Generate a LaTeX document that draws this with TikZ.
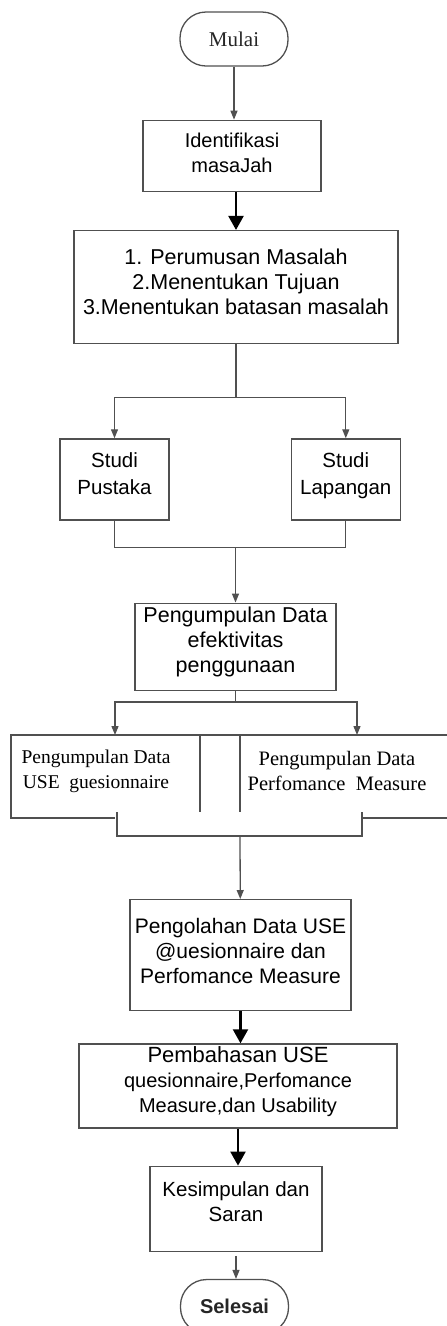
\documentclass[tikz,border=0pt]{standalone}
\usepackage{fontspec}
\setmainfont{Liberation Sans}
\newfontfamily\hurufserif{Liberation Serif}
\usetikzlibrary{positioning, arrows.meta}
\definecolor{garisabu}{HTML}{505050}
\tikzset{
>={Triangle[length=9pt,width=7pt]}, % ujung panah yang tipis
proses/.style={draw=garisabu, line width=1.3pt, inner sep=0pt}, % kotak proses biasa
teks/.style={align=center, inner sep=0pt}, % isi tulisan kotak
terminal/.style={draw=garisabu, line width=1.3pt, rounded corners=26pt, minimum width=108pt, minimum height=54pt, text=black!85}, % mulai dan selesai
garis/.style={draw=garisabu, line width=1.3pt}, % garis penghubung tanpa panah
panah/.style={garis, ->}, % panah tipis abu-abu
panahtebal/.style={draw=black, line width=2.2pt, -{Triangle[length=14pt,width=15pt]}}, % panah hitam tebal
}

\begin{document}
\begin{tikzpicture}[x=1pt, y=-1pt]
        \useasboundingbox (0,0) rectangle (447,1326);
        \node[terminal, font=\hurufserif\fontsize{21}{25}\selectfont] (mulai) at (234,39) {Mulai};
        \node[proses, below=53pt of mulai, xshift=-2pt, minimum width=178pt, minimum height=71pt] (ident) {};
        \node[proses, below=38pt of ident, xshift=4pt, minimum width=324pt, minimum height=113pt] (rumus) {};
        \node[proses, below=94pt of rumus, xshift=-121.5pt, minimum width=109pt, minimum height=81pt] (pustaka) {};
        \node[proses, right=121pt of pustaka, minimum width=109pt, minimum height=81pt] (lapangan) {};
        \coordinate[below=53pt of rumus] (cabang1);
        \coordinate[below=27pt of pustaka] (gabung1);
        \node[proses, below=55pt of gabung1, xshift=121pt, minimum width=201pt, minimum height=87pt] (kumpul) {};
        \coordinate[below=11pt of kumpul] (cabang2);
        % kotak ganda kuesioner dan performance measure
        \draw[garis] (447,735) -- (11,735) -- (11,818) -- (115,818);
        \draw[garis] (363,818) -- (447,818);
        \draw[garis] (200,735) -- (200,812);
        \draw[garis] (240,735) -- (240,812);
        \coordinate (masukA) at (115,735);
        \coordinate (masukB) at (357,735);
        \coordinate (keluarA) at (117,812);
        \coordinate (keluarB) at (362,812);
        \coordinate (kurung) at (240,836);
        \node[proses, below=63pt of kurung, xshift=0.5pt, minimum width=221pt, minimum height=111pt] (olah) {};
        \node[proses, below=32pt of olah, xshift=-2.5pt, minimum width=318pt, minimum height=84pt] (bahas) {};
        \node[proses, below=37pt of bahas, xshift=-2pt, minimum width=172pt, minimum height=85pt] (simpul) {};
        \node[terminal, below=27pt of simpul, xshift=-1.5pt, font=\bfseries\fontsize{20}{25}\selectfont] (selesai) {Selesai};
        % tulisan di dalam kotak
        \node[teks, font=\fontsize{20}{25}\selectfont] (identteks) at ([yshift=3pt]ident) {Identifikasi\\masaJah};
        \node[teks, font=\fontsize{21.5}{25}\selectfont] (rumusteks) at ([yshift=5pt]rumus) {1. Perumusan Masalah\\2.Menentukan Tujuan\\3.Menentukan batasan masalah};
        \node[teks, font=\fontsize{20.5}{27}\selectfont] (pustakateks) at ([yshift=6pt]pustaka) {Studi\\Pustaka};
        \node[teks, font=\fontsize{20.5}{27}\selectfont] (lapanganteks) at ([yshift=4pt]lapangan) {Studi\\Lapangan};
        \node[teks, font=\fontsize{21.5}{25}\selectfont] (kumpulteks) at ([yshift=5pt]kumpul) {Pengumpulan Data\\efektivitas\\penggunaan};
        \node[teks, font=\hurufserif\fontsize{19.5}{25}\selectfont] (gues) at (96,771) {Pengumpulan Data\\USE\ \ guesionnaire};
        \node[teks, font=\hurufserif\fontsize{20.5}{25}\selectfont] (perf) at (337,771) {Pengumpulan Data\\Perfomance\ \ Measure};
        \node[teks, font=\fontsize{21}{25}\selectfont] (olahteks) at ([yshift=4pt]olah) {Pengolahan Data USE\\@uesionnaire dan\\Perfomance Measure};
        \node[teks, font=\fontsize{20}{25}\selectfont] (bahasteks) at ([yshift=4pt]bahas) {{\fontsize{22}{25}\selectfont Pembahasan USE}\\quesionnaire,Perfomance\\Measure,dan Usability};
        \node[teks, font=\fontsize{20.5}{25}\selectfont] (simpulteks) at ([yshift=7pt]simpul) {Kesimpulan dan\\Saran};
        % penghubung
        \draw[panah] (mulai) -- (mulai |- ident.north);
        \draw[panahtebal] (rumus.north |- ident.south) -- (rumus.north);
        \draw[garis] (rumus) -- (cabang1);
        \draw[panah] (cabang1) -| (pustaka);
        \draw[panah] (cabang1) -| (lapangan);
        \draw[garis] (pustaka) -- (gabung1) -| (lapangan);
        \draw[panah] (gabung1 -| kumpul) -- (kumpul);
        \draw[garis] (kumpul) -- (cabang2);
        \draw[panah] (cabang2) -| (masukA);
        \draw[panah] (cabang2) -| (masukB);
        \draw[garis] (keluarA) |- (kurung) -| (keluarB);
        \draw[panah] (kurung) -- (olah);
        \draw[panahtebal] (olah) -- (olah |- bahas.north);
        \draw[panahtebal] (bahas) -- (bahas |- simpul.north);
        \draw[panah, shorten <=4pt] (simpul) -- (simpul |- selesai.north);
    \end{tikzpicture}
\end{document}
